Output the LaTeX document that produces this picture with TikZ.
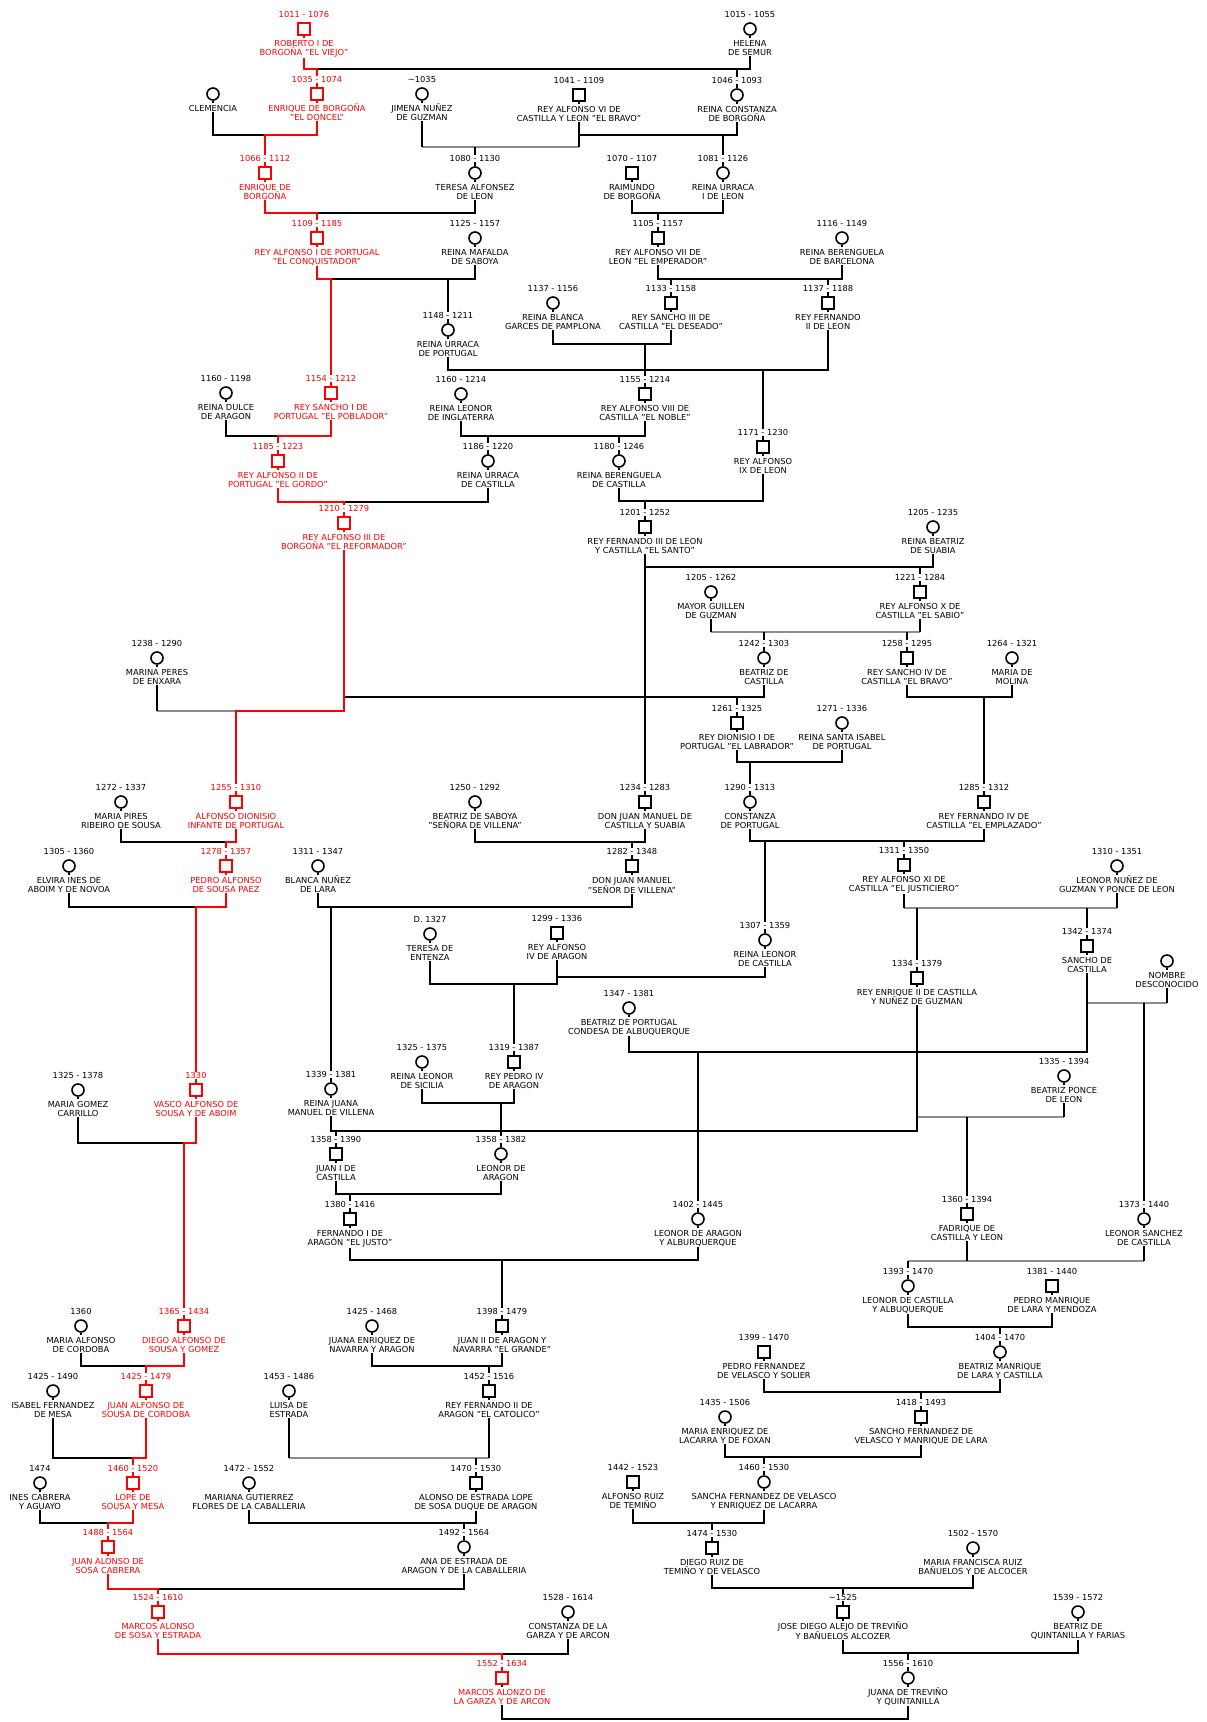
\documentclass[tikz,border=0pt]{standalone}
\usepackage{fontspec}
\setmainfont{DejaVu Sans}
\definecolor{rd}{HTML}{FF0000}
\definecolor{gl}{HTML}{8C8C8C}
\pgfdeclarelayer{bg}
\pgfsetlayers{bg,main}
\newcommand\nf{\fontsize{8.3}{9.3}\selectfont}
\tikzset{
 sq/.style={draw, rectangle, minimum size=12pt, inner sep=0pt, line width=1.6pt, fill=white},
 ci/.style={draw, circle, minimum size=12pt, inner sep=0pt, line width=1.6pt, fill=white},
 datel/.style={font=\nf, inner sep=0.6pt, fill=white, anchor=center},
 namel/.style={font=\nf, inner sep=0.3pt, fill=white, anchor=north, align=center},
 ln/.style={line width=1.6pt, black},
 lr/.style={line width=1.6pt, rd},
 lg/.style={line width=1.6pt, gl},
}
\newcommand\per[7][black]{%
 \node[#5, draw=#1] (#2) at (#3,#4) {};
 \node[datel, text=#1] (#2d) at (#3,#4-14.5) {#6};
 \node[namel, text=#1] (#2n) at (#3,#4+9) {\rule{0pt}{7.8pt}#7};
}
\begin{document}
\begin{tikzpicture}[x=1pt,y=-1pt]
\useasboundingbox (0,0) rectangle (1207,1722);
% ---------- red line ----------
\per[rd]{rob}{304}{29}{sq}{1011 - 1076}{ROBERTO I DE\\BORGOÑA "EL VIEJO"}
\per[rd]{enr1}{317}{94}{sq}{1035 - 1074}{ENRIQUE DE BORGOÑA\\"EL DONCEL"}
\per[rd]{enr2}{265}{173}{sq}{1066 - 1112}{ENRIQUE DE\\BORGOÑA}
\per[rd]{alf1}{317}{238}{sq}{1109 - 1185}{REY ALFONSO I DE PORTUGAL\\"EL CONQUISTADOR"}
\per[rd]{san1}{331}{393}{sq}{1154 - 1212}{REY SANCHO I DE\\PORTUGAL "EL POBLADOR"}
\per[rd]{alf2}{278}{461}{sq}{1185 - 1223}{REY ALFONSO II DE\\PORTUGAL "EL GORDO"}
\per[rd]{alf3}{344}{523}{sq}{1210 - 1279}{REY ALFONSO III DE\\BORGOÑA "EL REFORMADOR"}
\per[rd]{alfd}{236}{802}{sq}{1255 - 1310}{ALFONSO DIONISIO\\INFANTE DE PORTUGAL}
\per[rd]{pedro}{226}{866}{sq}{1278 - 1357}{PEDRO ALFONSO\\DE SOUSA PAEZ}
\per[rd]{vasco}{196}{1090}{sq}{1330}{VASCO ALFONSO DE\\SOUSA Y DE ABOIM}
\per[rd]{diego}{184}{1326}{sq}{1365 - 1434}{DIEGO ALFONSO DE\\SOUSA Y GOMEZ}
\per[rd]{juanalf}{146}{1391}{sq}{1425 - 1479}{JUAN ALFONSO DE\\SOUSA DE CORDOBA}
\per[rd]{lope}{133}{1483}{sq}{1460 - 1520}{LOPE DE\\SOUSA Y MESA}
\per[rd]{juanalo}{108}{1547}{sq}{1488 - 1564}{JUAN ALONSO DE\\SOSA CABRERA}
\per[rd]{marcos1}{158}{1612}{sq}{1524 - 1610}{MARCOS ALONSO\\DE SOSA Y ESTRADA}
\per[rd]{marcos2}{502}{1678}{sq}{1552 - 1634}{MARCOS ALONZO DE\\LA GARZA Y DE ARCON}
% ---------- others ----------
\per{helena}{750}{29}{ci}{1015 - 1055}{HELENA\\DE SEMUR}
\node[ci] (clem) at (213,94) {};
\node[namel] (clemn) at (213,103) {\rule{0pt}{7.8pt}CLEMENCIA};
\per{jimena}{422}{94}{ci}{\textasciitilde1035}{JIMENA NUÑEZ\\DE GUZMAN}
\per{alf6}{579}{95}{sq}{1041 - 1109}{REY ALFONSO VI DE\\CASTILLA Y LEON "EL BRAVO"}
\per{const}{737}{95}{ci}{1046 - 1093}{REINA CONSTANZA\\DE BORGOÑA}
\per{teresa}{475}{173}{ci}{1080 - 1130}{TERESA ALFONSEZ\\DE LEON}
\per{raim}{632}{173}{sq}{1070 - 1107}{RAIMUNDO\\DE BORGOÑA}
\per{urr1}{723}{173}{ci}{1081 - 1126}{REINA URRACA\\I DE LEON}
\per{mafalda}{475}{238}{ci}{1125 - 1157}{REINA MAFALDA\\DE SABOYA}
\per{alf7}{658}{238}{sq}{1105 - 1157}{REY ALFONSO VII DE\\LEON "EL EMPERADOR"}
\per{bereb}{842}{238}{ci}{1116 - 1149}{REINA BERENGUELA\\DE BARCELONA}
\per{blanca}{553}{303}{ci}{1137 - 1156}{REINA BLANCA\\GARCES DE PAMPLONA}
\per{san3}{671}{303}{sq}{1133 - 1158}{REY SANCHO III DE\\CASTILLA "EL DESEADO"}
\per{fer2}{828}{303}{sq}{1137 - 1188}{REY FERNANDO\\II DE LEON}
\per{urrp}{448}{330}{ci}{1148 - 1211}{REINA URRACA\\DE PORTUGAL}
\per{dulce}{226}{393}{ci}{1160 - 1198}{REINA DULCE\\DE ARAGON}
\per{leoi}{461}{394}{ci}{1160 - 1214}{REINA LEONOR\\DE INGLATERRA}
\per{alf8}{645}{394}{sq}{1155 - 1214}{REY ALFONSO VIII DE\\CASTILLA "EL NOBLE"}
\per{alf9}{763}{447}{sq}{1171 - 1230}{REY ALFONSO\\IX DE LEON}
\per{urrc}{488}{461}{ci}{1186 - 1220}{REINA URRACA\\DE CASTILLA}
\per{berc}{619}{461}{ci}{1180 - 1246}{REINA BERENGUELA\\DE CASTILLA}
\per{fer3}{645}{527}{sq}{1201 - 1252}{REY FERNANDO III DE LEON\\Y CASTILLA "EL SANTO"}
\per{beas}{933}{527}{ci}{1205 - 1235}{REINA BEATRIZ\\DE SUABIA}
\per{alf10}{920}{592}{sq}{1221 - 1284}{REY ALFONSO X DE\\CASTILLA "EL SABIO"}
\per{mayor}{711}{592}{ci}{1205 - 1262}{MAYOR GUILLEN\\DE GUZMAN}
\per{marina}{157}{658}{ci}{1238 - 1290}{MARINA PERES\\DE ENXARA}
\per{beac}{764}{658}{ci}{1242 - 1303}{BEATRIZ DE\\CASTILLA}
\per{san4}{907}{658}{sq}{1258 - 1295}{REY SANCHO IV DE\\CASTILLA "EL BRAVO"}
\per{molina}{1012}{658}{ci}{1264 - 1321}{MARIA DE\\MOLINA}
\per{dion}{737}{723}{sq}{1261 - 1325}{REY DIONISIO I DE\\PORTUGAL "EL LABRADOR"}
\per{isabel}{842}{723}{ci}{1271 - 1336}{REINA SANTA ISABEL\\DE PORTUGAL}
\per{mpires}{121}{802}{ci}{1272 - 1337}{MARIA PIRES\\RIBEIRO DE SOUSA}
\per{beasab}{475}{802}{ci}{1250 - 1292}{BEATRIZ DE SABOYA\\"SEÑORA DE VILLENA"}
\per{djm1}{645}{802}{sq}{1234 - 1283}{DON JUAN MANUEL DE\\CASTILLA Y SUABIA}
\per{constp}{750}{802}{ci}{1290 - 1313}{CONSTANZA\\DE PORTUGAL}
\per{fer4}{984}{802}{sq}{1285 - 1312}{REY FERNANDO IV DE\\CASTILLA "EL EMPLAZADO"}
\per{elvira}{69}{866}{ci}{1305 - 1360}{ELVIRA INES DE\\ABOIM Y DE NOVOA}
\per{blancan}{318}{866}{ci}{1311 - 1347}{BLANCA NUÑEZ\\DE LARA}
\per{djm2}{632}{866}{sq}{1282 - 1348}{DON JUAN MANUEL\\"SEÑOR DE VILLENA"}
\per{alf11}{904}{865}{sq}{1311 - 1350}{REY ALFONSO XI DE\\CASTILLA "EL JUSTICIERO"}
\per{leonun}{1117}{866}{ci}{1310 - 1351}{LEONOR NUÑEZ DE\\GUZMAN Y PONCE DE LEON}
\per{teresae}{430}{934}{ci}{D. 1327}{TERESA DE\\ENTENZA}
\per{alf4}{557}{933}{sq}{1299 - 1336}{REY ALFONSO\\IV DE ARAGON}
\per{leoc}{765}{940}{ci}{1307 - 1359}{REINA LEONOR\\DE CASTILLA}
\per{sancho}{1087}{946}{sq}{1342 - 1374}{SANCHO DE\\CASTILLA}
\node[ci] (nombre) at (1167,961) {};
\node[namel] (nombren) at (1167,970) {\rule{0pt}{7.8pt}NOMBRE\\DESCONOCIDO};
\per{enr2c}{917}{978}{sq}{1334 - 1379}{REY ENRIQUE II DE CASTILLA\\Y NUÑEZ DE GUZMAN}
\per{beapor}{629}{1008}{ci}{1347 - 1381}{BEATRIZ DE PORTUGAL\\CONDESA DE ALBUQUERQUE}
\per{leosic}{422}{1062}{ci}{1325 - 1375}{REINA LEONOR\\DE SICILIA}
\per{ped4}{514}{1062}{sq}{1319 - 1387}{REY PEDRO IV\\DE ARAGON}
\per{beapon}{1064}{1076}{ci}{1335 - 1394}{BEATRIZ PONCE\\DE LEON}
\per{juana}{331}{1089}{ci}{1339 - 1381}{REINA JUANA\\MANUEL DE VILLENA}
\per{mgomez}{78}{1090}{ci}{1325 - 1378}{MARIA GOMEZ\\CARRILLO}
\per{juan1}{336}{1154}{sq}{1358 - 1390}{JUAN I DE\\CASTILLA}
\per{leoa}{501}{1154}{ci}{1358 - 1382}{LEONOR DE\\ARAGON}
\per{fadr}{967}{1214}{sq}{1360 - 1394}{FADRIQUE DE\\CASTILLA Y LEON}
\per{fer1a}{350}{1219}{sq}{1380 - 1416}{FERNANDO I DE\\ARAGÓN "EL JUSTO"}
\per{leoaa}{698}{1219}{ci}{1402 - 1445}{LEONOR DE ARAGON\\Y ALBURQUERQUE}
\per{leos}{1144}{1219}{ci}{1373 - 1440}{LEONOR SANCHEZ\\DE CASTILLA}
\per{leocal}{908}{1286}{ci}{1393 - 1470}{LEONOR DE CASTILLA\\Y ALBUQUERQUE}
\per{pman}{1052}{1286}{sq}{1381 - 1440}{PEDRO MANRIQUE\\DE LARA Y MENDOZA}
\per{malfc}{81}{1326}{ci}{1360}{MARIA ALFONSO\\DE CORDOBA}
\per{juanaen}{372}{1326}{ci}{1425 - 1468}{JUANA ENRIQUEZ DE\\NAVARRA Y ARAGON}
\per{juan2}{502}{1326}{sq}{1398 - 1479}{JUAN II DE ARAGON Y\\NAVARRA "EL GRANDE"}
\per{pfv}{764}{1352}{sq}{1399 - 1470}{PEDRO FERNANDEZ\\DE VELASCO Y SOLIER}
\per{beaman}{1000}{1352}{ci}{1404 - 1470}{BEATRIZ MANRIQUE\\DE LARA Y CASTILLA}
\per{isabelf}{53}{1391}{ci}{1425 - 1490}{ISABEL FERNANDEZ\\DE MESA}
\per{luisa}{289}{1391}{ci}{1453 - 1486}{LUISA DE\\ESTRADA}
\per{fer2a}{489}{1391}{sq}{1452 - 1516}{REY FERNANDO II DE\\ARAGON "EL CATOLICO"}
\per{menr}{725}{1417}{ci}{1435 - 1506}{MARIA ENRIQUEZ DE\\LACARRA Y DE FOXAN}
\per{sfv}{921}{1417}{sq}{1418 - 1493}{SANCHO FERNANDEZ DE\\VELASCO Y MANRIQUE DE LARA}
\per{ines}{40}{1483}{ci}{1474}{INES CABRERA\\Y AGUAYO}
\per{mariana}{249}{1483}{ci}{1472 - 1552}{MARIANA GUTIERREZ\\FLORES DE LA CABALLERIA}
\per{alonso}{476}{1483}{sq}{1470 - 1530}{ALONSO DE ESTRADA LOPE\\DE SOSA DUQUE DE ARAGON}
\per{alfruiz}{633}{1482}{sq}{1442 - 1523}{ALFONSO RUIZ\\DE TEMIÑO}
\per{sancha}{764}{1482}{ci}{1460 - 1530}{SANCHA FERNANDEZ DE VELASCO\\Y ENRIQUEZ DE LACARRA}
\per{ana}{464}{1547}{ci}{1492 - 1564}{ANA DE ESTRADA DE\\ARAGON Y DE LA CABALLERIA}
\per{diegor}{712}{1548}{sq}{1474 - 1530}{DIEGO RUIZ DE\\TEMIÑO Y DE VELASCO}
\per{mfr}{973}{1548}{ci}{1502 - 1570}{MARIA FRANCISCA RUIZ\\BAÑUELOS Y DE ALCOCER}
\per{constg}{568}{1612}{ci}{1528 - 1614}{CONSTANZA DE LA\\GARZA Y DE ARCON}
\per{jose}{843}{1612}{sq}{\textasciitilde1525}{JOSE DIEGO ALEJO DE TREVIÑO\\Y BAÑUELOS ALCOZER}
\per{beaq}{1078}{1612}{ci}{1539 - 1572}{BEATRIZ DE\\QUINTANILLA Y FARIAS}
\per{juanat}{908}{1678}{ci}{1556 - 1610}{JUANA DE TREVIÑO\\Y QUINTANILLA}
% ---------- connectors ----------
\begin{pgfonlayer}{bg}
\fill[white] (0,0) rectangle (1207,1722);
% gray bars
\draw[lg] (jimena |- 0,147) -- (alf6 |- 0,147);
\draw[lg] (mayor |- 0,632) -- (alf10 |- 0,632);
\draw[lg] (marina |- 0,711) -- (alfd |- 0,711);
\draw[lg] (alf11 |- 0,908) -- (leonun |- 0,908);
\draw[lg] (sancho |- 0,1003) -- (nombre |- 0,1003);
\draw[lg] (enr2c |- 0,1117) -- (beapon |- 0,1117);
\draw[lg] (luisa |- 0,1458) -- (fer2a |- 0,1458);
\draw[lg] (leocal |- 0,1261) -- (leos |- 0,1261);
% black
\draw[ln] (enr1 |- 0,69) -- (helena |- 0,69) -- (helena);
\draw[ln] (const |- 0,69) -- (const);
\draw[ln] (clem) -- (clem |- 0,135) -- (enr2 |- 0,135);
\draw[ln] (alf1 |- 0,213) -- (teresa |- 0,213) -- (teresa);
\draw[ln] (jimena) -- (jimena |- 0,147);
\draw[ln] (alf6) -- (alf6 |- 0,147);
\draw[ln] (teresa |- 0,147) -- (teresa);
\draw[ln] (alf6 |- 0,135) -- (const |- 0,135) -- (const);
\draw[ln] (urr1 |- 0,135) -- (urr1);
\draw[ln] (raim) -- (raim |- 0,213) -- (urr1 |- 0,213) -- (urr1);
\draw[ln] (alf7 |- 0,213) -- (alf7);
\draw[ln] (san1 |- 0,279) -- (mafalda |- 0,279) -- (mafalda);
\draw[ln] (urrp |- 0,279) -- (urrp);
\draw[ln] (alf7) -- (alf7 |- 0,279) -- (bereb |- 0,279) -- (bereb);
\draw[ln] (san3 |- 0,279) -- (san3);
\draw[ln] (fer2 |- 0,279) -- (fer2);
\draw[ln] (blanca) -- (blanca |- 0,344) -- (san3 |- 0,344) -- (san3);
\draw[ln] (alf8 |- 0,344) -- (alf8);
\draw[ln] (urrp) -- (urrp |- 0,370) -- (fer2 |- 0,370) -- (fer2);
\draw[ln] (alf9 |- 0,370) -- (alf9);
\draw[ln] (dulce) -- (dulce |- 0,436) -- (alf2 |- 0,436);
\draw[ln] (leoi) -- (leoi |- 0,436) -- (alf8 |- 0,436) -- (alf8);
\draw[ln] (urrc |- 0,436) -- (urrc);
\draw[ln] (berc |- 0,436) -- (berc);
\draw[ln] (alf3 |- 0,502) -- (urrc |- 0,502) -- (urrc);
\draw[ln] (berc) -- (berc |- 0,501) -- (alf9 |- 0,501) -- (alf9);
\draw[ln] (fer3 |- 0,501) -- (fer3);
\draw[ln] (fer3) -- (fer3 |- 0,567) -- (beas |- 0,567) -- (beas);
\draw[ln] (alf10 |- 0,567) -- (alf10);
\draw[ln] (fer3 |- 0,567) -- (djm1);
\draw[ln] (mayor) -- (mayor |- 0,632);
\draw[ln] (alf10) -- (alf10 |- 0,632);
\draw[ln] (beac |- 0,632) -- (beac);
\draw[ln] (san4 |- 0,632) -- (san4);
\draw[ln] (marina) -- (marina |- 0,711);
\draw[ln] (alf3 |- 0,697) -- (beac |- 0,697) -- (beac);
\draw[ln] (dion |- 0,697) -- (dion);
\draw[ln] (san4) -- (san4 |- 0,697) -- (molina |- 0,697) -- (molina);
\draw[ln] (fer4 |- 0,697) -- (fer4);
\draw[ln] (dion) -- (dion |- 0,762) -- (isabel |- 0,762) -- (isabel);
\draw[ln] (constp |- 0,762) -- (constp);
\draw[ln] (mpires) -- (mpires |- 0,842) -- (pedro |- 0,842);
\draw[ln] (beasab) -- (beasab |- 0,842) -- (djm1 |- 0,842) -- (djm1);
\draw[ln] (djm2 |- 0,842) -- (djm2);
\draw[ln] (constp) -- (constp |- 0,841) -- (fer4 |- 0,841) -- (fer4);
\draw[ln] (alf11 |- 0,841) -- (alf11);
\draw[ln] (leoc |- 0,841) -- (leoc);
\draw[ln] (elvira) -- (elvira |- 0,907) -- (vasco |- 0,907);
\draw[ln] (blancan) -- (blancan |- 0,907) -- (djm2 |- 0,907) -- (djm2);
\draw[ln] (juana |- 0,907) -- (juana);
\draw[ln] (alf11) -- (alf11 |- 0,908);
\draw[ln] (leonun) -- (leonun |- 0,908);
\draw[ln] (enr2c |- 0,908) -- (enr2c);
\draw[ln] (sancho |- 0,908) -- (sancho);
\draw[ln] (teresae) -- (teresae |- 0,984) -- (alf4 |- 0,984) -- (alf4);
\draw[ln] (ped4 |- 0,984) -- (ped4);
\draw[ln] (alf4 |- 0,977) -- (leoc |- 0,977) -- (leoc);
\draw[ln] (beapor) -- (beapor |- 0,1052) -- (sancho |- 0,1052) -- (sancho);
\draw[ln] (leoaa |- 0,1052) -- (leoaa);
\draw[ln] (nombre) -- (nombre |- 0,1003);
\draw[ln] (leos |- 0,1003) -- (leos);
\draw[ln] (leosic) -- (leosic |- 0,1103) -- (ped4 |- 0,1103) -- (ped4);
\draw[ln] (leoa |- 0,1103) -- (leoa);
\draw[ln] (beapon) -- (beapon |- 0,1117);
\draw[ln] (fadr |- 0,1117) -- (fadr);
\draw[ln] (juana) -- (juana |- 0,1131) -- (enr2c |- 0,1131) -- (enr2c);
\draw[ln] (juan1 |- 0,1131) -- (juan1);
\draw[ln] (mgomez) -- (mgomez |- 0,1143) -- (diego |- 0,1143);
\draw[ln] (juan1) -- (juan1 |- 0,1194) -- (leoa |- 0,1194) -- (leoa);
\draw[ln] (fer1a |- 0,1194) -- (fer1a);
\draw[ln] (fer1a) -- (fer1a |- 0,1260) -- (leoaa |- 0,1260) -- (leoaa);
\draw[ln] (juan2 |- 0,1260) -- (juan2);
\draw[ln] (fadr) -- (fadr |- 0,1261);
\draw[ln] (leos) -- (leos |- 0,1261);
\draw[ln] (leocal |- 0,1261) -- (leocal);
\draw[ln] (leocal) -- (leocal |- 0,1327) -- (pman |- 0,1327) -- (pman);
\draw[ln] (beaman |- 0,1327) -- (beaman);
\draw[ln] (pfv) -- (pfv |- 0,1392) -- (beaman |- 0,1392) -- (beaman);
\draw[ln] (sfv |- 0,1392) -- (sfv);
\draw[ln] (menr) -- (menr |- 0,1457) -- (sfv |- 0,1457) -- (sfv);
\draw[ln] (sancha |- 0,1457) -- (sancha);
\draw[ln] (alfruiz) -- (alfruiz |- 0,1523) -- (sancha |- 0,1523) -- (sancha);
\draw[ln] (diegor |- 0,1523) -- (diegor);
\draw[ln] (diegor) -- (diegor |- 0,1588) -- (mfr |- 0,1588) -- (mfr);
\draw[ln] (jose |- 0,1588) -- (jose);
\draw[ln] (jose) -- (jose |- 0,1653) -- (beaq |- 0,1653) -- (beaq);
\draw[ln] (juanat |- 0,1653) -- (juanat);
\draw[ln] (malfc) -- (malfc |- 0,1366) -- (juanalf |- 0,1366);
\draw[ln] (juanaen) -- (juanaen |- 0,1366) -- (juan2 |- 0,1366) -- (juan2);
\draw[ln] (fer2a |- 0,1366) -- (fer2a);
\draw[ln] (isabelf) -- (isabelf |- 0,1458) -- (lope |- 0,1458);
\draw[ln] (luisa) -- (luisa |- 0,1458);
\draw[ln] (fer2a) -- (fer2a |- 0,1458);
\draw[ln] (alonso |- 0,1458) -- (alonso);
\draw[ln] (ines) -- (ines |- 0,1523) -- (juanalo |- 0,1523);
\draw[ln] (mariana) -- (mariana |- 0,1523) -- (alonso |- 0,1523) -- (alonso);
\draw[ln] (ana |- 0,1523) -- (ana);
\draw[ln] (marcos1 |- 0,1589) -- (ana |- 0,1589) -- (ana);
\draw[ln] (marcos2 |- 0,1654) -- (constg |- 0,1654) -- (constg);
\draw[ln] (marcos2) -- (marcos2 |- 0,1719) -- (juanat |- 0,1719) -- (juanat);
% red
\draw[lr] (rob) -- (rob |- 0,69) -- (enr1 |- 0,69) -- (enr1);
\draw[lr] (enr1) -- (enr1 |- 0,135) -- (enr2 |- 0,135) -- (enr2);
\draw[lr] (enr2) -- (enr2 |- 0,213) -- (alf1 |- 0,213) -- (alf1);
\draw[lr] (alf1) -- (alf1 |- 0,279) -- (san1 |- 0,279) -- (san1);
\draw[lr] (san1) -- (san1 |- 0,436) -- (alf2 |- 0,436) -- (alf2);
\draw[lr] (alf2) -- (alf2 |- 0,502) -- (alf3 |- 0,502) -- (alf3);
\draw[lr] (alf3) -- (alf3 |- 0,711) -- (alfd |- 0,711) -- (alfd);
\draw[lr] (alfd) -- (alfd |- 0,842) -- (pedro |- 0,842) -- (pedro);
\draw[lr] (pedro) -- (pedro |- 0,907) -- (vasco |- 0,907) -- (vasco);
\draw[lr] (vasco) -- (vasco |- 0,1143) -- (diego |- 0,1143) -- (diego);
\draw[lr] (diego) -- (diego |- 0,1366) -- (juanalf |- 0,1366) -- (juanalf);
\draw[lr] (juanalf) -- (juanalf |- 0,1458) -- (lope |- 0,1458) -- (lope);
\draw[lr] (lope) -- (lope |- 0,1523) -- (juanalo |- 0,1523) -- (juanalo);
\draw[lr] (juanalo) -- (juanalo |- 0,1589) -- (marcos1 |- 0,1589) -- (marcos1);
\draw[lr] (marcos1) -- (marcos1 |- 0,1654) -- (marcos2 |- 0,1654) -- (marcos2);
\end{pgfonlayer}
\end{tikzpicture}
\end{document}
